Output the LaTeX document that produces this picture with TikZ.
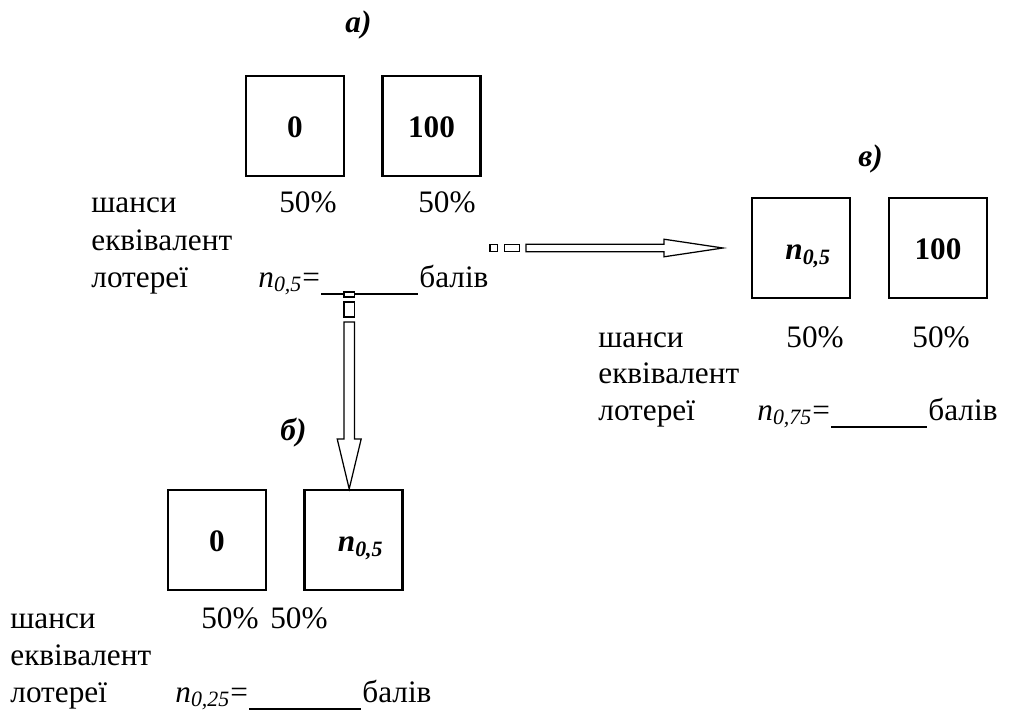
\documentclass[tikz,border=0pt]{standalone}
\usepackage{fontspec}
\setmainfont{Liberation Serif}
\usetikzlibrary{calc}
% n with an italic subscript, as in n_{0,5}
\newcommand\lotn[1]{\textit{n}\textsubscript{\textit{#1}}}
% contents of a box, set a little low in the frame
\newcommand\boxnum[1]{\smash{\raisebox{-5.3pt}{#1}}}
\newcommand\boxn[1]{\smash{\raisebox{-5.6pt}{\hspace*{7pt}\itshape\lotn{#1}}}}
\tikzset{
  lotbox/.style={draw, line width=1.06pt, minimum width=47pt, minimum height=48pt,
    inner sep=0pt, font=\fontsize{15}{17}\selectfont\bfseries},
  txt/.style={anchor=base west, inner sep=0pt, font=\fontsize{15}{17}\selectfont},
  pct/.style={anchor=base, inner sep=0pt, font=\fontsize{15}{17}\selectfont},
  tag/.style={anchor=base west, inner sep=0pt, font=\fontsize{15}{17}\selectfont\bfseries\itshape},
  blockarrow/.style={draw, fill=white, line width=0.6pt, line join=miter},
  blank/.style={line width=0.6pt}
}
\begin{document}
\begin{tikzpicture}[x=0.48pt, y=-0.48pt]
\useasboundingbox (0,0) rectangle (1010,711);

% --- part a ---
\node[tag] (ta) at (345,33) {а)};
\node[lotbox] (a0) at (295,126) {\boxnum{0}};
\node[lotbox] (a100) at (431.5,126) {\boxnum{100}};
\node[txt] (aodds) at (91,213) {шанси};
\node[txt] (aeq) at (91,250) {еквівалент};
\node[txt] (alot) at (91,287) {лотереї};
\node[pct] (ap1) at (308,213) {50\%};
\node[pct] (ap2) at (447,213) {50\%};
\node[txt] (af) at (258,287) {\lotn{0,5}=};
\node[txt] (apts) at (419,287) {балів};
\draw[blank] ($(af.base east)+(1,7)$) -- ($(apts.base west)+(-1,7)$);

% --- part b ---
\node[tag] (tb) at (280,440) {б)};
\node[lotbox] (b0) at (217,540) {\boxnum{0}};
\node[lotbox] (bn) at (353.5,540) {\boxn{0,5}};
\node[txt] (bodds) at (10,628) {шанси};
\node[txt] (beq) at (10,665) {еквівалент};
\node[txt] (blot) at (10,702) {лотереї};
\node[pct] (bp1) at (230,628) {50\%};
\node[pct] (bp2) at (299,628) {50\%};
\node[txt] (bf) at (175,702) {\lotn{0,25}=};
\node[txt] (bpts) at (362,702) {балів};
\draw[blank] ($(bf.base east)+(1,7)$) -- ($(bpts.base west)+(-1,7)$);

% --- part c ---
\node[tag] (tc) at (858,167) {в)};
\node[lotbox] (cn) at (801,248) {\boxn{0,5}};
\node[lotbox] (c100) at (938,248) {\boxnum{100}};
\node[txt] (codds) at (598,347) {шанси};
\node[txt] (ceq) at (598,383) {еквівалент};
\node[txt] (clot) at (598,420) {лотереї};
\node[pct] (cp1) at (815,347) {50\%};
\node[pct] (cp2) at (941,347) {50\%};
\node[txt] (cf) at (757,420) {\lotn{0,75}=};
\node[txt] (cpts) at (928,420) {балів};
\draw[blank] ($(cf.base east)+(1,7)$) -- ($(cpts.base west)+(-1,7)$);

% --- block arrow a -> c ---
\coordinate (hstart) at (490,248);
\coordinate (htip) at ($(cn.west)+(-28,0)$);
\draw[blockarrow] ($(hstart)+(0,-3.7)$) rectangle ($(hstart)+(7.3,3.7)$);
\draw[blockarrow] ($(hstart)+(14.3,-3.7)$) rectangle ($(hstart)+(29.3,3.7)$);
\draw[blockarrow] ($(hstart)+(36,-3.7)$) -- ($(htip)+(-59,-3.7)$) -- ($(htip)+(-59,-8.8)$)
  -- (htip) -- ($(htip)+(-59,8.8)$) -- ($(htip)+(-59,3.7)$) -- ($(hstart)+(36,3.7)$) -- cycle;

% --- block arrow a -> b ---
\coordinate (vstart) at (349.2,292);
\coordinate (vtip) at (bn.north -| vstart);
\draw[blockarrow] ($(vstart)+(-5.2,0)$) rectangle ($(vstart)+(5.2,5)$);
\draw[blockarrow] ($(vstart)+(-5.2,10)$) rectangle ($(vstart)+(5.2,25)$);
\draw[blockarrow] ($(vstart)+(-5.2,30)$) -- ($(vtip)+(-5.2,-50)$) -- ($(vtip)+(-12,-50)$)
  -- (vtip) -- ($(vtip)+(12,-50)$) -- ($(vtip)+(5.2,-50)$) -- ($(vstart)+(5.2,30)$) -- cycle;
\end{tikzpicture}
\end{document}
